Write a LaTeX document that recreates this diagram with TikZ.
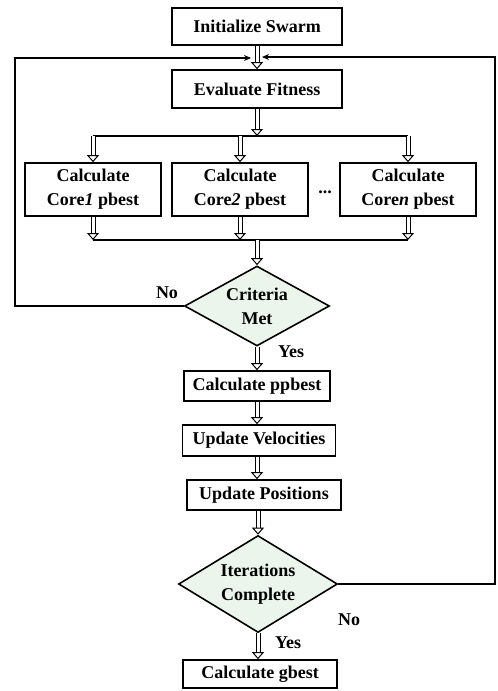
\documentclass[tikz,border=0pt]{standalone}
\usepackage{fontspec}
\setmainfont{Liberation Serif}
\usetikzlibrary{arrows.meta,shapes.geometric,positioning,calc}
\tikzstyle{blk} = [draw,line width=1.6pt,align=center,font=\fontsize{18}{24}\selectfont\bfseries,inner sep=1pt]
\tikzstyle{dec} = [blk,diamond,fill=green!50!black!8,aspect=1.8,inner sep=0pt]
\tikzstyle{hollow} = [double,double distance=3pt,line width=1pt,-{Triangle[open,length=7pt,width=12pt]}]
\tikzstyle{wire} = [line width=1.5pt]
\tikzstyle{lbl} = [font=\fontsize{18}{24}\selectfont\bfseries]

\begin{document}
\begin{tikzpicture}[x=1pt,y=-1pt]
        \useasboundingbox (0,0) rectangle (498,691);

        \node[blk,minimum width=170pt,minimum height=37pt] (init) at (257,26.5) {Initialize Swarm};
        \node[blk,minimum width=170pt,minimum height=38pt] (eval) at (257,89) {Evaluate Fitness};
        \node[blk,minimum width=136pt,minimum height=53pt] (c1) at (93,189.5) {Calculate\\Core\textit{1} pbest};
        \node[blk,minimum width=136pt,minimum height=53pt] (c2) at (240,189.5) {Calculate\\Core\textit{2} pbest};
        \node[blk,minimum width=136pt,minimum height=53pt] (cn) at (408,189.5) {Calculate\\Core\textit{n} pbest};
        \node[lbl] (dots) at (325,192) {...};
        \node[dec,minimum width=145pt,minimum height=80pt] (crit) at (257,306) {Criteria\\Met};
        \node[blk,minimum width=146pt,minimum height=30pt] (ppb) at (257,386) {Calculate ppbest};
        \node[blk,minimum width=153pt,minimum height=31pt] (vel) at (259,440.5) {Update Velocities};
        \node[blk,minimum width=154pt,minimum height=30pt] (pos) at (264,495) {Update Positions};
        \node[dec,minimum width=159pt,minimum height=97pt] (iter) at (258,584) {Iterations\\Complete};
        \node[blk,minimum width=154pt,minimum height=28pt] (gb) at (260,674) {Calculate gbest};

        \node[lbl] (no1) at (167,293) {No};
        \node[lbl] (yes1) at (291,352) {Yes};
        \node[lbl] (no2) at (349,620) {No};
        \node[lbl] (yes2) at (288,643) {Yes};

        \coordinate (fan) at (257,136);
        \coordinate (mrg) at (257,240);
        \coordinate (lft) at (15,58);
        \coordinate (rgt) at (495,57);
        \coordinate (jl) at (251,58);
        \coordinate (jr) at (262,57);

        % main column
        \draw[hollow] (init) -- (eval);
        \draw[hollow] (eval) -- (fan);
        \draw[wire] (c1.north |- fan) -- (cn.north |- fan);
        \foreach \c in {c1,c2,cn}{
            \draw[hollow] (\c.north |- fan) -- (\c.north);
            \draw[hollow] (\c.south) -- (\c.south |- mrg);
        }
        \draw[wire] (c1.south |- mrg) -- (cn.south |- mrg);
        \draw[hollow] (mrg) -- (crit.north);
        \draw[hollow] (crit.south) -- (ppb);
        \draw[hollow] (ppb) -- (vel.north -| ppb);
        \draw[hollow] (vel.south -| ppb) -- (pos.north -| ppb);
        \draw[hollow] (pos.south -| iter) -- (iter.north);
        \draw[hollow] (iter.south) -- (gb.north -| iter);

        % loops back
        \draw[wire,-{Stealth[length=7pt,width=6pt]}] (crit.west) -| (lft) -- (jl);
        \draw[wire,-{Stealth[length=7pt,width=6pt]}] (iter.east) -| (rgt) -- (jr);
\end{tikzpicture}
\end{document}
